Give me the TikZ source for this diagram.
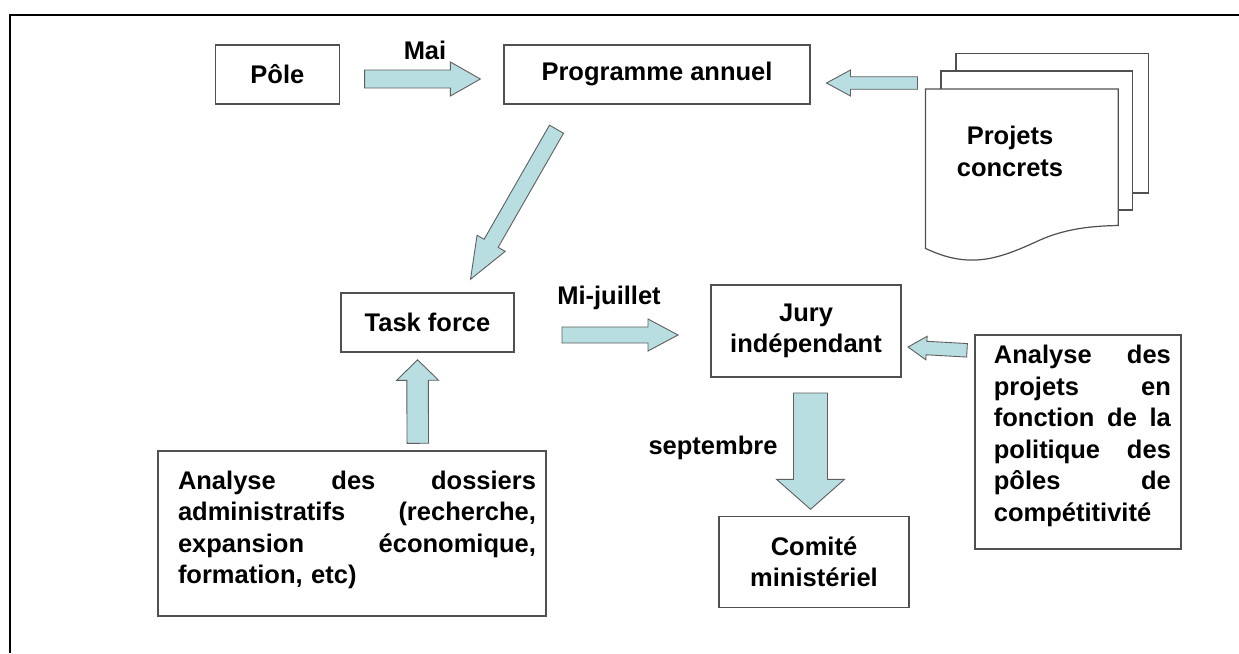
\documentclass[tikz,border=0pt]{standalone}
\usepackage{fontspec}
\setmainfont{Liberation Sans}
\usetikzlibrary{calc}
\definecolor{arrfill}{RGB}{184,222,225}
\definecolor{arrline}{RGB}{95,95,95}
\definecolor{boxline}{RGB}{80,80,80}
\newcommand\jline[2]{\leavevmode\hbox to #1{#2}}
\newcommand\blockarrow[5]{%
  \coordinate (ba-h) at ($(#2)!#5!(#1)$);
  \filldraw[blockarr] ($(#1)!#3/2!90:(#2)$) -- ($(ba-h)!#3/2!-90:(#1)$) -- ($(ba-h)!#4/2!-90:(#1)$) -- (#2) -- ($(ba-h)!#4/2!90:(#1)$) -- ($(ba-h)!#3/2!90:(#1)$) -- ($(#1)!#3/2!-90:(#2)$) -- cycle;}
\begin{document}
\begin{tikzpicture}[x=1pt,y=-1pt,
  every node/.style={font=\fontsize{25.5}{31.5}\selectfont\bfseries},
  box/.style={draw=boxline,line width=1.2pt,fill=white,inner sep=0pt},
  blockarr/.style={fill=arrfill,draw=arrline,line width=0.9pt,line join=miter},
  docpage/.style={draw=boxline,line width=1.2pt,fill=white},
  para/.style={inner sep=0pt,align=left}]
\useasboundingbox (0,0) rectangle (1239,653);
\fill[white] (0,0) rectangle (1239,653);
% frame
\draw[line width=2pt] (1239,15) -- (10,15) -- (10,653);
% boxes
\node[box,minimum width=124pt,minimum height=59pt] (pole) at (277.4,74.4) {Pôle};
\node[box,minimum width=306pt,minimum height=59pt] (prog) at (657,74.4) {Programme annuel};
\node[box,minimum width=173pt,minimum height=59pt] (task) at (427.5,322.4) {Task force};
\node[box,minimum width=190pt,minimum height=92pt,align=center] (jury) at (806,331) {Jury\\indépendant};
\node[box,minimum width=190pt,minimum height=91pt,align=center] (comite) at (814,561.7) {Comité\\ministériel};
\node[box,minimum width=206pt,minimum height=214pt] (anaproj) at (1078,442) {};
\node[para,text width=177pt] (anaprojtxt) at (1082.4,436) {%
  \jline{177pt}{Analyse\hfill des}\\
  \jline{177pt}{projets\hfill en}\\
  \jline{177pt}{fonction\hfill de\hfill la}\\
  \jline{177pt}{politique\hfill des}\\
  \jline{177pt}{pôles\hfill de}\\
  compétitivité};
\node[box,minimum width=388pt,minimum height=165pt] (anadoss) at (352,533.5) {};
\node[para,text width=358pt] (anadosstxt) at (357,530) {%
  \jline{358pt}{Analyse\hfill des\hfill dossiers}\\
  \jline{358pt}{administratifs\hfill (recherche,}\\
  \jline{358pt}{expansion\hfill économique,}\\
  formation, etc)};
% document stack
\filldraw[docpage] (956,53.8) rectangle (1148.5,193);
\filldraw[docpage] (941,71) rectangle (1132.3,210);
\filldraw[docpage] (925.5,89) -- (1118.2,89) -- (1118.2,225.5) .. controls (1090,226) and (1065,229) .. (1040,240) .. controls (1010,254) and (990,261) .. (968,260) .. controls (950,259) and (938,254) .. (925.5,248.5) -- cycle;
\node[align=center] (projets) at (1010,151.5) {Projets\\concrets};
% labels
\node (mai) at (425,50) {Mai};
\node (mij) at (609,298) {Mi-juillet};
\node (sept) at (713,448) {septembre};
% arrows
\coordinate (maiT) at (364.6,79); \coordinate (maiH) at (480.4,79);
\blockarrow{maiT}{maiH}{18pt}{34pt}{30pt}
\coordinate (projT) at (917.5,83); \coordinate (projH) at (826.5,83);
\blockarrow{projT}{projH}{12.5pt}{26pt}{24pt}
\coordinate (diagT) at (556.5,129.2); \coordinate (diagH) at (470.5,279.3);
\blockarrow{diagT}{diagH}{16.2pt}{32.4pt}{41.5pt}
\coordinate (mijT) at (562,335); \coordinate (mijH) at (678,335);
\blockarrow{mijT}{mijH}{16pt}{32pt}{30pt}
\coordinate (upT) at (417.8,443.3); \coordinate (upH) at (417.5,359.8);
\blockarrow{upT}{upH}{21.5pt}{42pt}{20.5pt}
\coordinate (dnT) at (810.5,393); \coordinate (dnH) at (810.5,509.3);
\blockarrow{dnT}{dnH}{34pt}{68pt}{30pt}
\coordinate (smT) at (967,350.3); \coordinate (smH) at (908,347);
\blockarrow{smT}{smH}{13.5pt}{23.5pt}{18.5pt}
\end{tikzpicture}
\end{document}
